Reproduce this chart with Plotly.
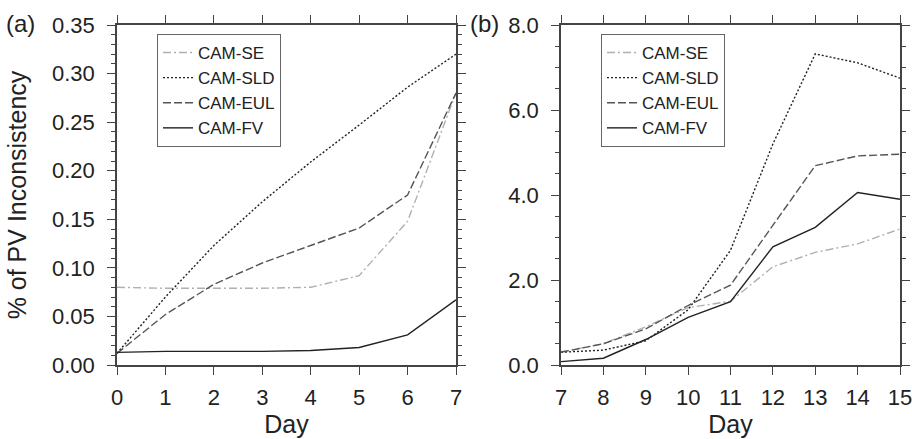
import plotly.graph_objects as go

days_a = [0, 1, 2, 3, 4, 5, 6, 7]
se_a = [0.080, 0.079, 0.079, 0.079, 0.080, 0.092, 0.148, 0.280]
sld_a = [0.012, 0.070, 0.123, 0.168, 0.209, 0.247, 0.286, 0.320]
eul_a = [0.012, 0.052, 0.083, 0.105, 0.123, 0.141, 0.175, 0.280]
fv_a = [0.013, 0.014, 0.014, 0.014, 0.015, 0.018, 0.031, 0.067]

days_b = [7, 8, 9, 10, 11, 12, 13, 14, 15]
se_b = [0.31, 0.50, 0.90, 1.35, 1.50, 2.31, 2.65, 2.85, 3.20]
sld_b = [0.30, 0.35, 0.57, 1.30, 2.70, 5.20, 7.32, 7.11, 6.75]
eul_b = [0.30, 0.50, 0.85, 1.40, 1.88, 3.30, 4.69, 4.92, 4.96]
fv_b = [0.08, 0.16, 0.60, 1.12, 1.49, 2.78, 3.24, 4.06, 3.90]

names = ["CAM-SE", "CAM-SLD", "CAM-EUL", "CAM-FV"]
colors = ["#b0b0b0", "#222222", "#555555", "#222222"]
dashes = ["8px,3px,2px,3px", "2px,2px", "8px,3px", "solid"]

FONT = "Liberation Sans, Arial, Helvetica, sans-serif"
AX = "#444444"
TXT = "#222222"

fig = go.Figure()
for name, ys, c, d in zip(names, [se_a, sld_a, eul_a, fv_a], colors, dashes):
    fig.add_trace(go.Scatter(x=days_a, y=ys, mode="lines", name=name,
                             line=dict(color=c, dash=d, width=1.4),
                             xaxis="x", yaxis="y", legend="legend"))
for name, ys, c, d in zip(names, [se_b, sld_b, eul_b, fv_b], colors, dashes):
    fig.add_trace(go.Scatter(x=days_b, y=ys, mode="lines", name=name,
                             line=dict(color=c, dash=d, width=1.4),
                             xaxis="x2", yaxis="y2", legend="legend2"))

ydom = [1 - 365 / 439, 1 - 25 / 439]
common_axis = dict(showline=True, linecolor=AX, linewidth=1.5, mirror="ticks",
                   ticks="outside", ticklen=8, tickwidth=1.3, tickcolor=AX,
                   showgrid=False, zeroline=False, automargin=False,
                   ticklabeloverflow="allow",
                   tickfont=dict(family=FONT, size=22, color=TXT))

legend_common = dict(bgcolor="rgba(255,255,255,1)", bordercolor="#666666", borderwidth=1,
                     font=dict(family=FONT, size=17, color=TXT),
                     tracegroupgap=0, itemwidth=30, xanchor="left", yanchor="top")

title_font = dict(family=FONT, size=25, color=TXT)

fig.update_layout(
    width=912, height=439,
    margin=dict(l=0, r=0, t=0, b=0, autoexpand=False),
    paper_bgcolor="white", plot_bgcolor="white",
    font=dict(family=FONT, color=TXT),
    xaxis=dict(domain=[117 / 912, 456 / 912], range=[0, 7], dtick=1, anchor="y",
               ticklabelstandoff=4,
               title=dict(text="Day", font=title_font, standoff=2),
               **common_axis),
    yaxis=dict(domain=ydom, range=[0, 0.35], dtick=0.05, tickformat=".2f", anchor="x",
               ticklabelstandoff=8,
               minor=dict(dtick=0.01, ticks="outside", ticklen=4, tickcolor=AX, tickwidth=1),
               title=dict(text="% of PV Inconsistency", font=title_font, standoff=18),
               **common_axis),
    xaxis2=dict(domain=[561 / 912, 900 / 912], range=[7, 15], dtick=1, anchor="y2",
                ticklabelstandoff=4,
                title=dict(text="Day", font=title_font, standoff=2),
                **common_axis),
    yaxis2=dict(domain=ydom, range=[0, 8], dtick=2, tickformat=".1f", anchor="x2",
                ticklabelstandoff=8,
                minor=dict(dtick=0.5, ticks="outside", ticklen=4, tickcolor=AX, tickwidth=1),
                **common_axis),
    legend=dict(x=157 / 912, y=1 - 34 / 439, **legend_common),
    legend2=dict(x=601 / 912, y=1 - 34 / 439, **legend_common),
    annotations=[
        dict(text="(a)", x=4 / 912, y=1 - 23 / 439, xref="paper", yref="paper",
             xanchor="left", yanchor="middle", showarrow=False,
             font=dict(family=FONT, size=24, color=TXT)),
        dict(text="(b)", x=468 / 912, y=1 - 23 / 439, xref="paper", yref="paper",
             xanchor="left", yanchor="middle", showarrow=False,
             font=dict(family=FONT, size=24, color=TXT)),
    ],
)

fig.write_html("out.html", config={"displayModeBar": False},
               post_script="document.body.style.margin='0';document.body.style.overflow='hidden';")
